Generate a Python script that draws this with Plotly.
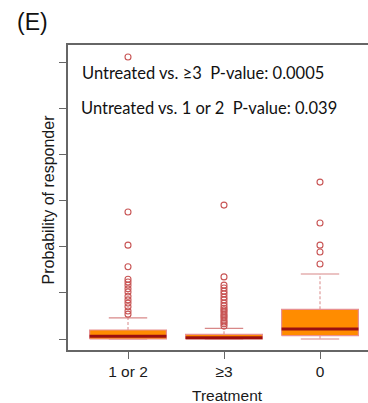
import plotly.graph_objects as go

categories = ["1 or 2", "≥3", "0"]
positions = [1, 2, 3]
q1 = [0.0, 0.0, 0.0074]
median = [0.0059, 0.0028, 0.0217]
q3 = [0.0196, 0.0102, 0.0646]
lower_whisker = [0.0, 0.0, 0.0]
upper_whisker = [0.046, 0.0232, 0.1413]
outliers = [
    [0.054, 0.061, 0.070, 0.078, 0.085, 0.093, 0.102, 0.109, 0.117, 0.124, 0.130, 0.157, 0.204, 0.276, 0.613],
    [0.028, 0.033, 0.037, 0.041, 0.046, 0.050, 0.054, 0.059, 0.063, 0.067, 0.072, 0.078, 0.085, 0.091, 0.098,
     0.104, 0.111, 0.117, 0.135, 0.291],
    [0.163, 0.189, 0.204, 0.252, 0.341],
]
y_ticks = [0, 0.1, 0.2, 0.3, 0.4, 0.5, 0.6]
annotation_lines = ["Untreated vs. ≥3  P-value: 0.0005", "Untreated vs. 1 or 2  P-value: 0.039"]

BOX_FILL = "#FF8C00"
BOX_EDGE = "#E89090"
MEDIAN = "#9B1010"
WHISK = "#D88888"
OUT = "#C85555"

half = 0.4
cap = 0.2
fig = go.Figure()
for i, p in enumerate(positions):
    fig.add_trace(go.Scatter(x=[p, p, None, p, p], y=[q3[i], upper_whisker[i], None, q1[i], lower_whisker[i]],
                             mode="lines", line=dict(color=WHISK, width=1, dash="3px,2px"),
                             hoverinfo="skip", showlegend=False))
    fig.add_trace(go.Scatter(x=[p - cap, p + cap, None, p - cap, p + cap],
                             y=[upper_whisker[i], upper_whisker[i], None, lower_whisker[i], lower_whisker[i]],
                             mode="lines", line=dict(color=WHISK, width=1.2),
                             hoverinfo="skip", showlegend=False))
    fig.add_trace(go.Scatter(x=[p - half, p + half, p + half, p - half, p - half],
                             y=[q1[i], q1[i], q3[i], q3[i], q1[i]],
                             mode="lines", fill="toself", fillcolor=BOX_FILL,
                             line=dict(color=BOX_EDGE, width=1.2), hoverinfo="skip", showlegend=False))
    fig.add_trace(go.Scatter(x=[p - half, p + half], y=[median[i], median[i]], mode="lines",
                             line=dict(color=MEDIAN, width=3), hoverinfo="skip", showlegend=False))
    fig.add_trace(go.Scatter(x=[p] * len(outliers[i]), y=outliers[i], mode="markers",
                             marker=dict(symbol="circle-open", size=6, color=OUT, line=dict(width=1.1)),
                             showlegend=False))

fig.update_layout(
    width=368, height=403,
    margin=dict(l=68, r=0, t=45, b=53),
    plot_bgcolor="white", paper_bgcolor="white",
    font=dict(family="Liberation Sans, Arial", size=15, color="#222"),
    xaxis=dict(range=[0.375, 3.5], tickvals=positions, ticktext=categories, showgrid=False, zeroline=False,
               showline=True, linecolor="#666", linewidth=1.5, mirror=True, ticks="outside", ticklen=7,
               tickcolor="#666", tickwidth=1.2, tickfont=dict(size=15.5, color="#1a1a1a")),
    yaxis=dict(range=[-0.0239, 0.639], tickvals=y_ticks, showticklabels=False, showgrid=False, zeroline=False,
               showline=True, linecolor="#666", linewidth=1.5, ticks="outside", ticklen=7,
               tickcolor="#666", tickwidth=1.2),
    annotations=[
        dict(text="(E)", xref="paper", yref="paper", x=-0.117, y=1.075, xanchor="center", yanchor="middle",
             showarrow=False, font=dict(size=23, color="#111")),
        dict(text=annotation_lines[0], xref="paper", yref="paper", x=0, xshift=12, y=0.908,
             xanchor="left", yanchor="middle", showarrow=False,
             font=dict(family="Lato, Open Sans", size=16.5, color="#111")),
        dict(text=annotation_lines[1], xref="paper", yref="paper", x=0, xshift=11, y=0.793,
             xanchor="left", yanchor="middle", showarrow=False,
             font=dict(family="Lato, Open Sans", size=16.5, color="#111")),
        dict(text="Probability of responder", xref="paper", yref="paper", x=0, xshift=-20, y=0.5,
             yshift=-2, textangle=-90, xanchor="center", yanchor="middle", showarrow=False,
             font=dict(size=16, color="#1a1a1a")),
        dict(text="Treatment", xref="paper", yref="paper", x=0.533, y=0, yshift=-45,
             xanchor="center", yanchor="middle", showarrow=False, font=dict(size=15.5, color="#1a1a1a")),
    ],
)
fig.write_html("out.html")
